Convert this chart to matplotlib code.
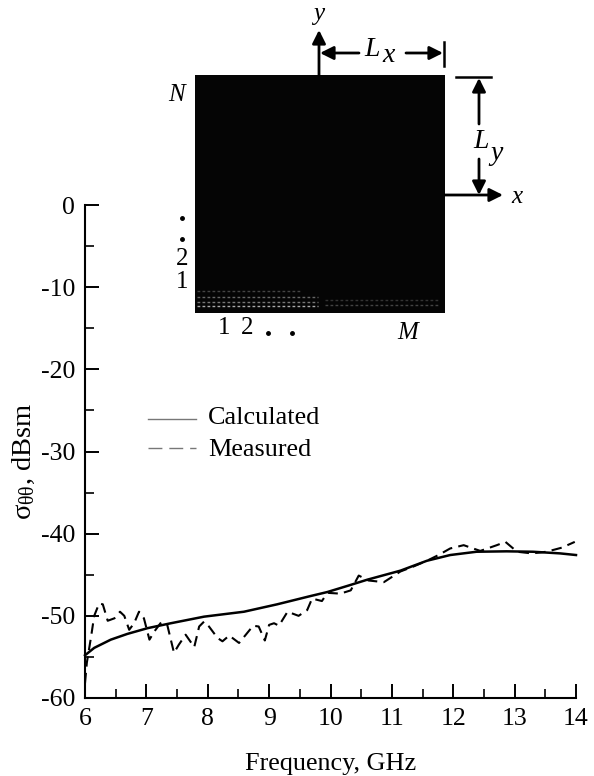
import numpy as np
import matplotlib
matplotlib.use("Agg")
import matplotlib.pyplot as plt
from matplotlib.patches import Rectangle

plt.rcParams['font.family'] = ['Liberation Serif', 'DejaVu Serif']
plt.rcParams['mathtext.fontset'] = 'custom'
plt.rcParams['mathtext.rm'] = 'Liberation Serif'
plt.rcParams['mathtext.it'] = 'Liberation Serif'
plt.rcParams['axes.unicode_minus'] = False

# calculated curve
calc_f = [6.0, 6.15, 6.42, 6.69, 7.02, 7.40, 7.94, 8.59, 9.13, 9.67, 9.95, 10.3, 10.6,
          11.14, 11.57, 11.95, 12.38, 12.87, 13.3, 13.74, 14.0]
calc_s = [-54.8, -53.9, -52.9, -52.2, -51.5, -50.9, -50.1, -49.5, -48.6, -47.6, -47.1, -46.3, -45.6,
          -44.5, -43.3, -42.6, -42.2, -42.15, -42.2, -42.4, -42.6]

# measured curve
meas_f = [6.0, 6.03, 6.10, 6.15, 6.23, 6.29, 6.37, 6.48, 6.57, 6.64, 6.72, 6.80, 6.88, 6.96,
          7.05, 7.13, 7.24, 7.34, 7.45, 7.53, 7.64, 7.78, 7.86, 7.94, 8.02, 8.16, 8.24, 8.35,
          8.51, 8.62, 8.74, 8.83, 8.93, 9.0, 9.08, 9.16, 9.30, 9.48, 9.62, 9.70, 9.86, 9.95,
          10.16, 10.33, 10.46, 10.62, 10.87, 11.14, 11.35, 11.57, 11.76, 11.95, 12.17, 12.44,
          12.71, 12.85, 13.04, 13.28, 13.52, 13.77, 13.98]
meas_s = [-58.2, -55.7, -52.5, -50.0, -48.5, -48.6, -50.6, -50.3, -49.5, -50.0, -51.7, -50.9, -49.5, -50.3,
          -52.9, -51.9, -50.8, -51.1, -54.5, -53.5, -52.3, -53.8, -51.3, -50.7, -51.3, -52.7, -53.1, -52.4,
          -53.3, -52.3, -51.2, -51.3, -53.0, -51.1, -50.9, -51.2, -49.5, -50.0, -49.3, -47.9, -48.2, -47.2,
          -47.3, -46.9, -45.1, -45.7, -45.9, -44.6, -44.0, -43.3, -42.6, -41.8, -41.4, -42.1,
          -41.4, -41.0, -42.2, -42.4, -42.2, -41.7, -41.0]

x_ticks = [6, 7, 8, 9, 10, 11, 12, 13, 14]
y_ticks = [0, -10, -20, -30, -40, -50, -60]

W, H = 594, 776
fig = plt.figure(figsize=(W / 100, H / 100), dpi=100)
ax = fig.add_axes([85 / W, 1 - 698 / H, 491 / W, 493 / H])

ax.plot(calc_f, calc_s, color='black', lw=1.8, clip_on=False)
ax.plot(meas_f, meas_s, color='black', lw=1.5, ls=(0, (5, 3)), clip_on=False)

ax.set_xlim(6, 14)
ax.set_ylim(-60, 0)
ax.set_xticks(x_ticks)
ax.set_yticks(y_ticks)
ax.set_xticks(np.arange(6.5, 14, 1), minor=True)
ax.set_yticks(np.arange(-55, 0, 5), minor=True)
ax.spines['top'].set_visible(False)
ax.spines['right'].set_visible(False)
ax.spines['left'].set_linewidth(1.5)
ax.spines['bottom'].set_linewidth(1.5)
ax.tick_params(which='major', direction='in', length=10, width=1.4, labelsize=18.5, pad=7)
ax.tick_params(which='minor', direction='in', length=6.5, width=1.2)
ax.set_xlabel('Frequency, GHz', fontsize=18.8, labelpad=17)
ax.set_ylabel(r'$\sigma_{\theta\theta}$, dBsm', fontsize=20.5)
ax.yaxis.set_label_coords(-0.098, 0.481)

# overlay in pixel units for the legend and the array sketch
ov = fig.add_axes([0, 0, 1, 1])
ov.set_xlim(0, W)
ov.set_ylim(H, 0)
ov.axis('off')

# legend
ov.plot([148, 196], [419, 419], color='#777777', lw=1.0)
ov.plot([148, 196], [448, 448], color='#777777', lw=1.0, ls=(0, (10, 5)))
ov.text(208, 418, 'Calculated', fontsize=18.8, va='center')
ov.text(208, 450, 'Measured', fontsize=18.8, va='center')

# array sketch, lighter dotted rows along the bottom
ov.add_patch(Rectangle((195, 75), 250, 238, fc='#050505', ec='none'))
for row_y, shade, x0, x1 in [(291, '#444444', 197, 300), (297, '#666666', 197, 318),
                             (302, '#777777', 197, 318), (306, '#aaaaaa', 197, 318),
                             (300, '#333333', 325, 440), (305, '#444444', 325, 440)]:
    ov.plot([x0, x1], [row_y, row_y], color=shade, lw=1.0, ls=(0, (2, 1.6)))

def arrow(x0, y0, x1, y1):
    ov.annotate('', xy=(x1, y1), xytext=(x0, y0),
                arrowprops=dict(arrowstyle='-|>', color='black', lw=2, mutation_scale=20,
                                shrinkA=0, shrinkB=0))

arrow(319, 75, 319, 30)
arrow(359, 53, 320, 53)
arrow(406, 53, 443, 53)
ov.plot([444, 444], [42, 66], color='black', lw=1.8)
ov.plot([456, 491], [77, 77], color='black', lw=1.8)
arrow(479, 124, 479, 78)
arrow(479, 159, 479, 195)
arrow(445, 195, 503, 195)

it = dict(style='italic', va='center', ha='center')
ov.text(319, 14, 'y', fontsize=18, **it)
ov.text(517, 197, 'x', fontsize=18, **it)
ov.text(372, 49, 'L', fontsize=20, **it)
ov.text(389, 55, 'x', fontsize=20, **it)
ov.text(481, 142, 'L', fontsize=20, **it)
ov.text(497, 154, 'y', fontsize=20, **it)
ov.text(177, 95, 'N', fontsize=18, **it)
ov.text(408, 333, 'M', fontsize=18, **it)

num = dict(va='center', ha='center', fontsize=18)
ov.text(182, 259, '2', **num)
ov.text(182, 282, '1', **num)
ov.text(224, 328, '1', **num)
ov.text(247, 328, '2', **num)
for px, py in [(182, 218), (182, 239), (268, 333), (292, 333)]:
    ov.plot(px, py, marker='o', ms=2.5, color='black')

fig.savefig('out.png', dpi=100)
